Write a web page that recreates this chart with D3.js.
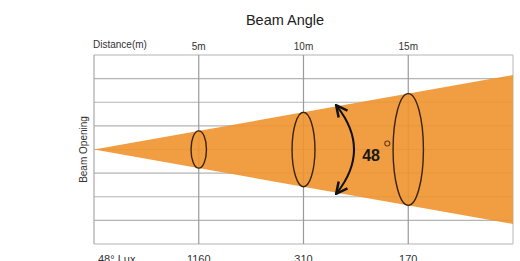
<!DOCTYPE html>
<html>
<head>
<meta charset="utf-8">
<script src="https://cdn.jsdelivr.net/npm/d3@7"></script>
<style>
  body { margin:0; background:#fff; }
  text { font-family: "Liberation Sans", Arial, sans-serif; }
</style>
</head>
<body>
<div id="chart"></div>
<script>
// data
var distances = [5, 10, 15];          // m
var distanceLabels = ["5m", "10m", "15m"];
var luxValues = ["1160", "310", "170"];
var beamAngle = 48;                   // degrees
var maxDistance = 20;

var W = 520, H = 261;
var svg = d3.select("#chart").append("svg").attr("width", W).attr("height", H);

// scales
var x = d3.scaleLinear().domain([0, maxDistance]).range([94, 513]);
var y = d3.scaleLinear().domain([-11.3, 11.3]).range([244, 55]);
var grid = d3.scaleLinear().domain([0, 8]).range([244, 55]);

var half = function(d){ return d * Math.tan(beamAngle / 2 * Math.PI / 180); };

// horizontal grid
var hGrid = function(){
  svg.append("g").selectAll("line").data(d3.range(9)).join("line")
    .attr("x1", x(0)).attr("x2", x(maxDistance))
    .attr("y1", d => grid(d)).attr("y2", d => grid(d))
    .style("stroke", "#b4b4b4").style("stroke-width", 1.2);
};
hGrid();

// vertical lines at distances
svg.append("g").selectAll("line").data(distances).join("line")
    .attr("x1", d => x(d)).attr("x2", d => x(d))
    .attr("y1", grid(0)).attr("y2", grid(8))
    .style("stroke", "#9a9a9a").style("stroke-width", 1.2);

// border sides
svg.append("line").attr("x1", x(0)).attr("x2", x(0)).attr("y1", grid(0)).attr("y2", grid(8))
    .style("stroke", "#a8a8a8").style("stroke-width", 1.2);
svg.append("line").attr("x1", x(maxDistance)).attr("x2", x(maxDistance)).attr("y1", grid(0)).attr("y2", grid(8))
    .style("stroke", "#c4c4c4").style("stroke-width", 1.2);

// beam
var beam = [[0, 0], [maxDistance, half(maxDistance)], [maxDistance, -half(maxDistance)]];
svg.append("path")
    .attr("d", d3.line().x(d => x(d[0])).y(d => y(d[1]))(beam) + "Z")
    .style("fill", "rgb(240 146 44)").style("fill-opacity", 0.9);

// ellipses
svg.append("g").selectAll("ellipse").data(distances).join("ellipse")
    .attr("cx", d => x(d)).attr("cy", y(0))
    .attr("ry", d => y(0) - y(half(d)))
    .attr("rx", d => 4 + 0.2 * (y(0) - y(half(d))))
    .style("fill", "none").style("stroke", "#3a2410").style("stroke-width", 1.4);

// angle arrow
var defs = svg.append("defs");
defs.append("marker").attr("id", "ah").attr("viewBox", "0 0 10 10")
    .attr("refX", 8).attr("refY", 5).attr("markerWidth", 7).attr("markerHeight", 7)
    .attr("orient", "auto-start-reverse")
  .append("path").attr("d", "M1,1 L9,5 L1,9").style("fill", "none")
    .style("stroke", "#111").style("stroke-width", 1.8);

var ad = 11.6;
var ax = x(ad), ayTop = y(half(ad)), ayBot = y(-half(ad));
svg.append("path")
    .attr("d", "M" + ax + "," + ayTop + " Q" + (ax + 34) + "," + y(0) + " " + ax + "," + ayBot)
    .style("fill", "none").style("stroke", "#111").style("stroke-width", 2)
    .attr("marker-start", "url(#ah)").attr("marker-end", "url(#ah)");

svg.append("text").attr("x", x(12.8)).attr("y", y(0) + 11)
    .style("font-size", "16px").style("font-weight", "bold").style("fill", "#1a1a1a")
    .text(beamAngle);
svg.append("circle").attr("cx", x(14.0)).attr("cy", y(0) - 6).attr("r", 2.5)
    .style("fill", "none").style("stroke", "#6a3a10").style("stroke-width", 1.1);

// title & labels
svg.append("text").attr("x", 285).attr("y", 25).attr("text-anchor", "middle")
    .style("font-size", "14.5px").style("fill", "#222").text("Beam Angle");
svg.append("text").attr("x", 93).attr("y", 48)
    .style("font-size", "10px").style("fill", "#333").text("Distance(m)");
svg.append("g").selectAll("text").data(distances).join("text")
    .attr("x", d => x(d)).attr("y", 50).attr("text-anchor", "middle")
    .style("font-size", "10px").style("fill", "#333")
    .text((d, i) => distanceLabels[i]);

svg.append("text").attr("transform", "translate(87," + y(0) + ") rotate(-90)")
    .attr("text-anchor", "middle").style("font-size", "10px").style("fill", "#333")
    .text("Beam Opening");

svg.append("text").attr("x", 98).attr("y", 263)
    .style("font-size", "11px").style("fill", "#333").text(beamAngle + "°  Lux");
svg.append("g").selectAll("text").data(distances).join("text")
    .attr("x", d => x(d)).attr("y", 263).attr("text-anchor", "middle")
    .style("font-size", "11px").style("fill", "#333")
    .text((d, i) => luxValues[i]);
</script>
</body>
</html>
